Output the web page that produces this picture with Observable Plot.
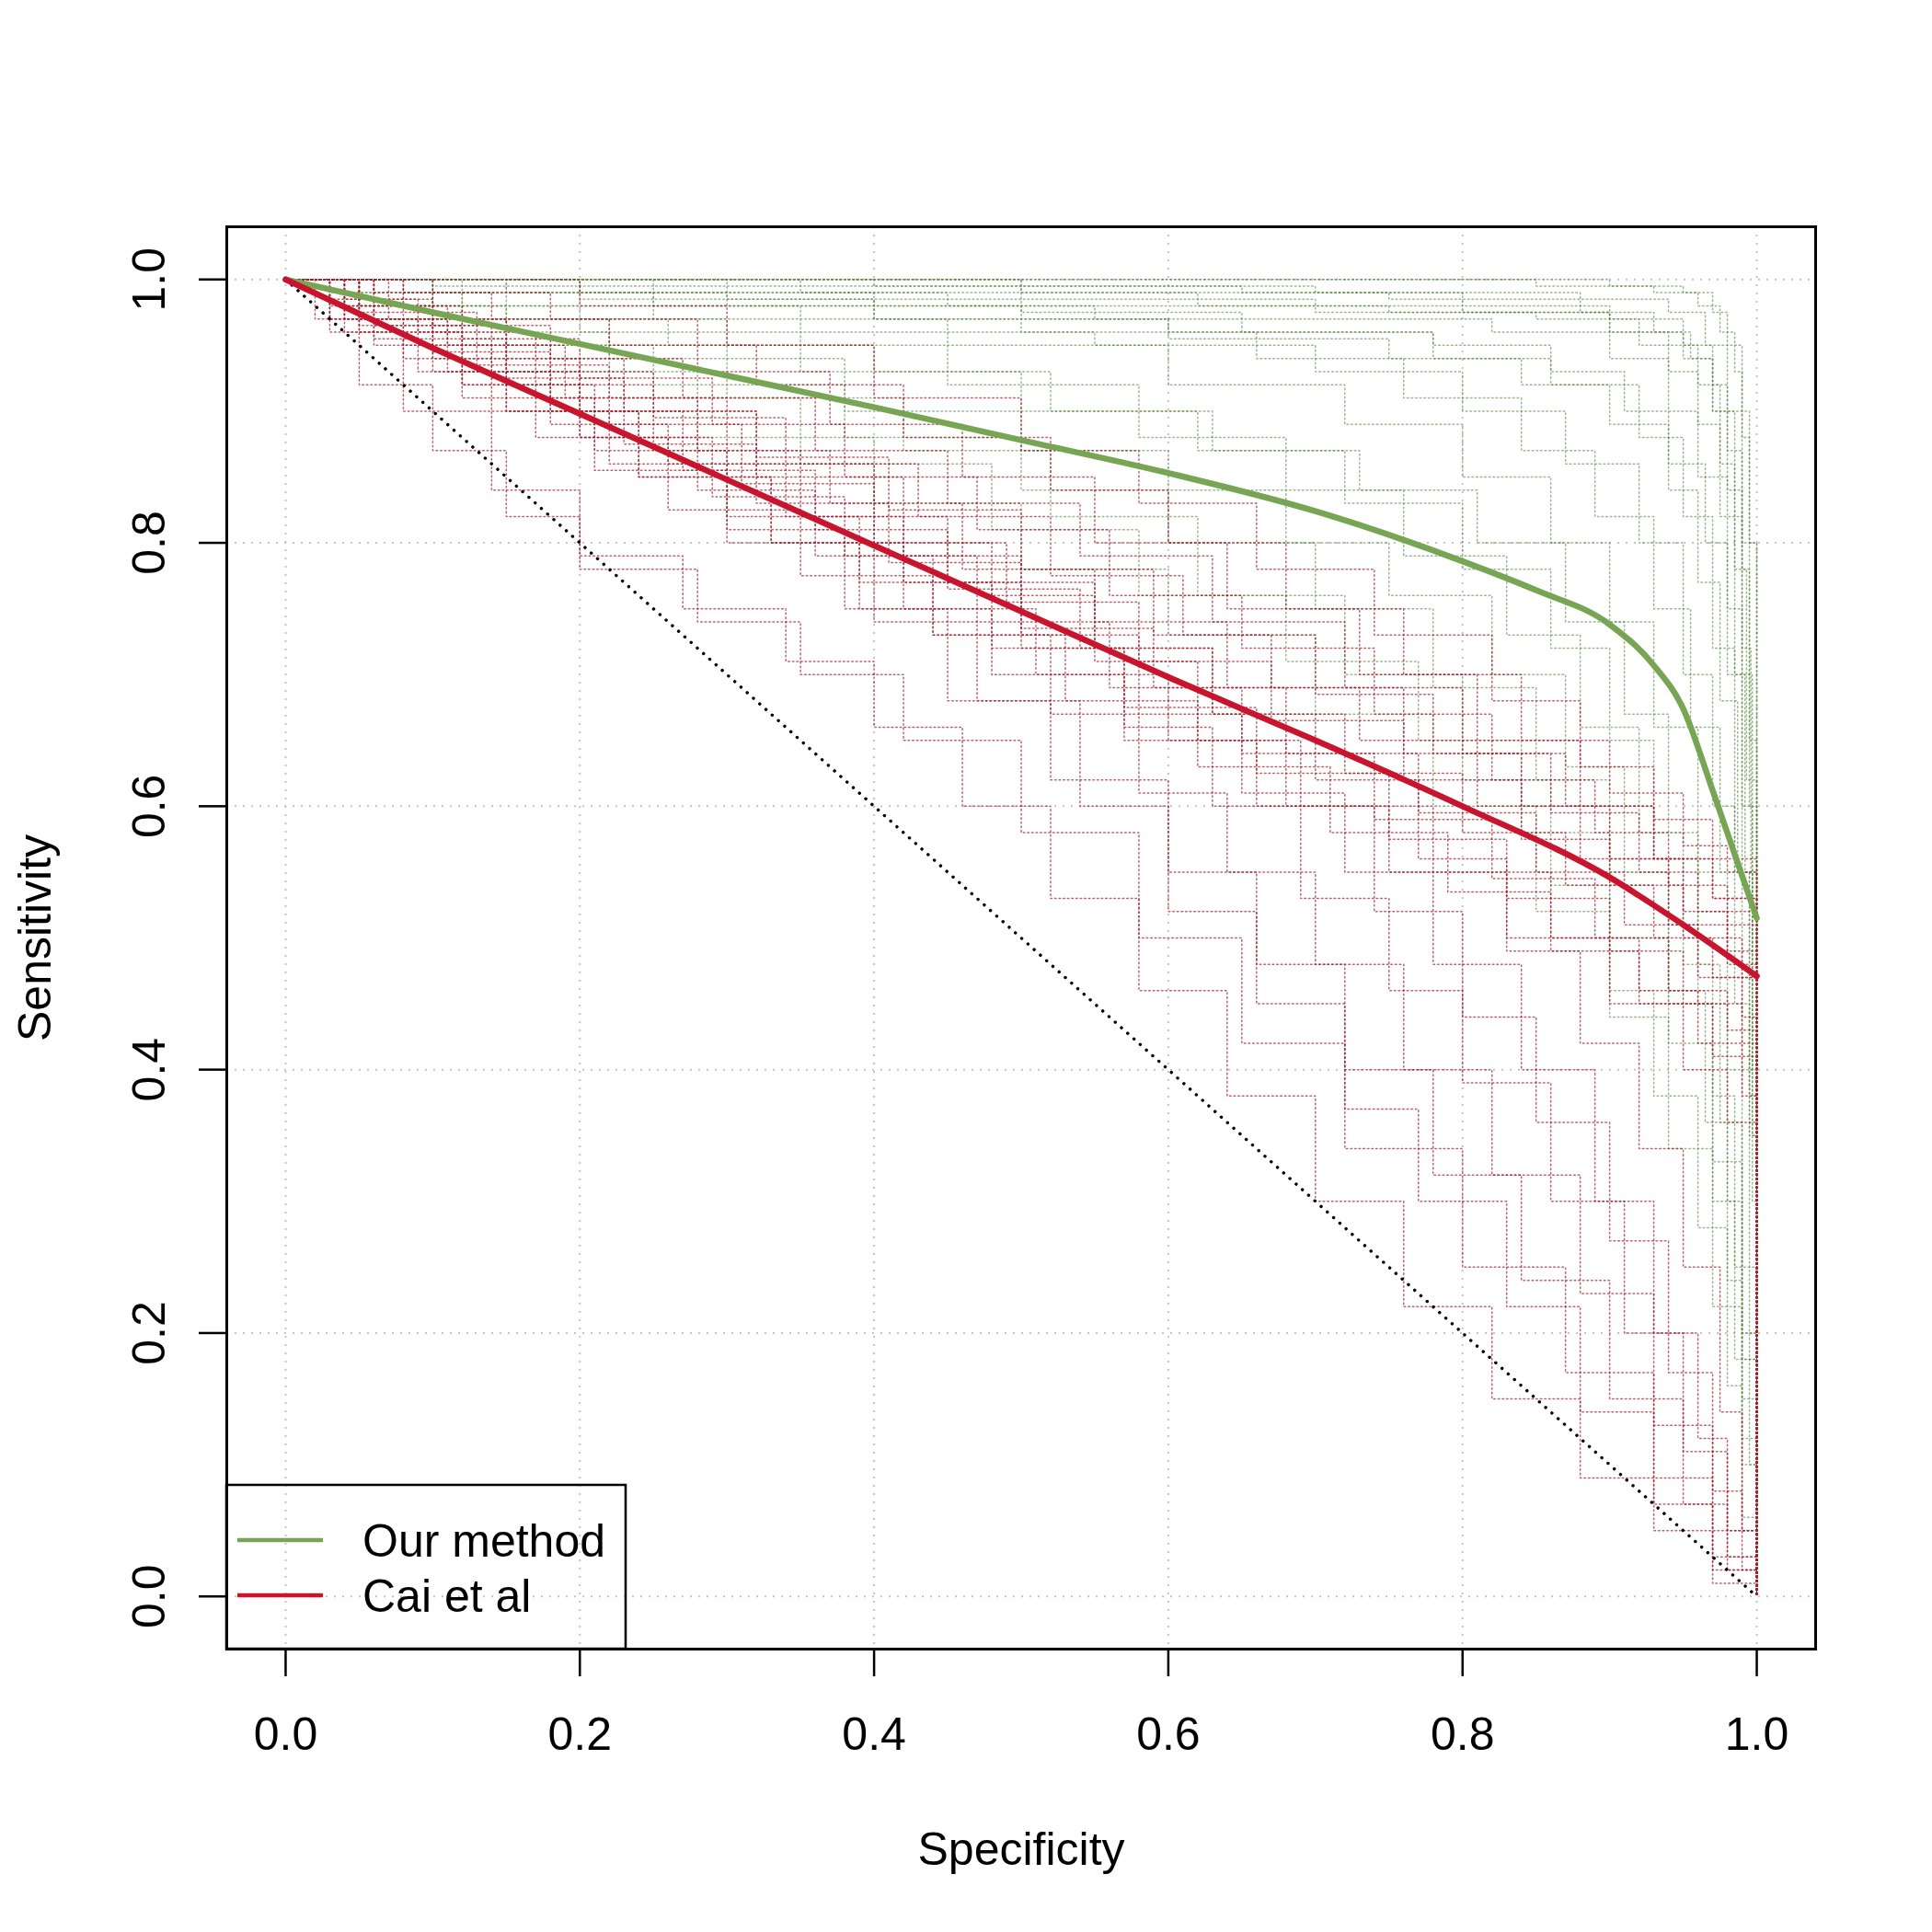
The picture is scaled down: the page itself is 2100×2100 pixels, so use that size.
<!DOCTYPE html>
<html><head><meta charset="utf-8">
<script src="https://cdn.jsdelivr.net/npm/d3@7"></script>
<script src="https://cdn.jsdelivr.net/npm/@observablehq/plot@0.6"></script>
<style>body{margin:0;background:#fff} #chart{width:2100px;height:2100px}</style>
</head><body><div id="chart"></div>
<script>
// ---- data ----
const xTicks = [0, 0.2, 0.4, 0.6, 0.8, 1.0];
const yTicks = [0, 0.2, 0.4, 0.6, 0.8, 1.0];
const seriesNames = ["Our method", "Cai et al"];
const seriesColors = ["#77a553", "#c8142c"];
const xLabel = "Specificity";
const yLabel = "Sensitivity";

// mean curves (specificity, sensitivity)
const ourMethodMean = [[0,1],[0.1,0.975],[0.2,0.951],[0.3,0.927],[0.4,0.903],[0.5,0.878],[0.6,0.853],[0.7,0.824],[0.8,0.786],[0.85,0.764],[0.9,0.738],[0.93,0.707],[0.95,0.674],[0.97,0.612],[0.987,0.557],[1,0.515]];
const caiMean = [[0,1],[0.1,0.948],[0.2,0.898],[0.3,0.848],[0.4,0.798],[0.5,0.748],[0.6,0.698],[0.7,0.65],[0.8,0.6],[0.9,0.546],[0.95,0.51],[1,0.471]];
const chanceLine = [[0,1],[1,0]];

// individual simulated ROC curves (step curves)
const ourMethodRuns = [
 [[0,1],[0.6,1],[0.85,0.995],[0.93,0.99],[0.96,0.98],[0.975,0.96],[0.985,0.93],[0.99,0.88],[0.995,0.8],[1,0.7],[1,0]],
 [[0,1],[0.3,0.995],[0.7,0.99],[0.88,0.985],[0.94,0.975],[0.965,0.95],[0.98,0.9],[0.99,0.8],[0.995,0.65],[1,0.55],[1,0]],
 [[0,1],[0.15,0.99],[0.45,0.98],[0.75,0.975],[0.9,0.96],[0.95,0.94],[0.97,0.9],[0.985,0.82],[0.99,0.7],[0.997,0.5],[1,0]],
 [[0,1],[0.1,0.99],[0.3,0.98],[0.55,0.97],[0.82,0.96],[0.9,0.94],[0.94,0.9],[0.96,0.85],[0.98,0.75],[0.99,0.6],[0.997,0.4],[1,0]],
 [[0,1],[0.2,0.99],[0.4,0.97],[0.6,0.96],[0.78,0.94],[0.86,0.92],[0.92,0.88],[0.95,0.82],[0.97,0.72],[0.985,0.55],[0.995,0.35],[1,0]],
 [[0,1],[0.12,0.98],[0.35,0.96],[0.55,0.95],[0.7,0.93],[0.8,0.9],[0.87,0.86],[0.92,0.8],[0.95,0.7],[0.97,0.6],[0.985,0.45],[0.995,0.25],[1,0]],
 [[0,1],[0.05,0.99],[0.25,0.97],[0.45,0.95],[0.6,0.92],[0.72,0.89],[0.8,0.85],[0.86,0.8],[0.9,0.74],[0.93,0.66],[0.96,0.55],[0.98,0.4],[0.99,0.2],[1,0]],
 [[0,1],[0.08,0.98],[0.2,0.96],[0.35,0.93],[0.5,0.9],[0.62,0.87],[0.72,0.83],[0.8,0.78],[0.86,0.72],[0.9,0.65],[0.93,0.56],[0.96,0.45],[0.98,0.3],[0.99,0.15],[1,0]],
 [[0,1],[0.15,0.97],[0.3,0.95],[0.45,0.92],[0.58,0.88],[0.68,0.84],[0.76,0.79],[0.83,0.73],[0.88,0.66],[0.92,0.58],[0.95,0.48],[0.97,0.38],[0.985,0.25],[0.995,0.1],[1,0]],
 [[0,1],[0.05,0.98],[0.15,0.95],[0.3,0.91],[0.42,0.87],[0.52,0.82],[0.62,0.76],[0.72,0.7],[0.8,0.62],[0.86,0.54],[0.9,0.46],[0.93,0.38],[0.96,0.28],[0.98,0.16],[0.99,0.06],[1,0]],
 [[0,1],[0.4,0.995],[0.65,0.99],[0.8,0.98],[0.9,0.97],[0.95,0.95],[0.97,0.92],[0.98,0.87],[0.99,0.78],[0.995,0.6],[1,0.45],[1,0]],
 [[0,1],[0.2,1],[0.5,0.985],[0.7,0.975],[0.85,0.97],[0.92,0.95],[0.96,0.92],[0.975,0.86],[0.985,0.78],[0.993,0.62],[1,0.5],[1,0]],
 [[0,1],[0.1,0.995],[0.3,0.985],[0.5,0.975],[0.65,0.96],[0.78,0.95],[0.86,0.93],[0.91,0.9],[0.94,0.86],[0.965,0.8],[0.98,0.7],[0.99,0.55],[0.997,0.3],[1,0]],
 [[0,1],[0.25,0.98],[0.5,0.96],[0.66,0.94],[0.76,0.91],[0.84,0.87],[0.89,0.82],[0.93,0.75],[0.955,0.66],[0.975,0.55],[0.99,0.4],[1,0.2],[1,0]],
 [[0,1],[0.1,0.97],[0.22,0.94],[0.38,0.9],[0.5,0.87],[0.6,0.84],[0.68,0.8],[0.75,0.76],[0.82,0.7],[0.87,0.63],[0.91,0.55],[0.94,0.46],[0.965,0.36],[0.98,0.24],[0.99,0.12],[1,0]],
 [[0,1],[0.35,0.99],[0.62,0.98],[0.8,0.975],[0.9,0.96],[0.94,0.93],[0.96,0.89],[0.975,0.82],[0.985,0.7],[0.992,0.55],[0.997,0.35],[1,0]],
 [[0,1],[0.5,0.99],[0.75,0.985],[0.88,0.975],[0.93,0.96],[0.955,0.94],[0.97,0.9],[0.98,0.84],[0.99,0.72],[0.996,0.55],[1,0.4],[1,0]],
 [[0,1],[0.03,0.99],[0.12,0.97],[0.26,0.95],[0.4,0.93],[0.52,0.9],[0.63,0.87],[0.73,0.84],[0.81,0.8],[0.87,0.74],[0.91,0.67],[0.94,0.58],[0.96,0.48],[0.975,0.36],[0.99,0.2],[1,0.05],[1,0]],
 [[0,1],[0.7,1],[0.9,0.995],[0.95,0.99],[0.97,0.975],[0.98,0.95],[0.99,0.9],[0.995,0.8],[1,0.7],[1,0]],
 [[0,1],[0.2,0.985],[0.4,0.97],[0.6,0.955],[0.75,0.94],[0.84,0.92],[0.9,0.89],[0.94,0.84],[0.96,0.77],[0.975,0.68],[0.987,0.55],[0.995,0.38],[1,0.15],[1,0]],
 [[0,1],[0.05,0.97],[0.15,0.93],[0.28,0.88],[0.4,0.83],[0.5,0.78],[0.6,0.73],[0.7,0.67],[0.78,0.6],[0.85,0.52],[0.9,0.44],[0.94,0.34],[0.97,0.22],[0.99,0.1],[1,0]],
 [[0,1],[0.1,0.96],[0.22,0.91],[0.35,0.86],[0.48,0.81],[0.58,0.76],[0.68,0.71],[0.77,0.65],[0.84,0.58],[0.9,0.5],[0.94,0.42],[0.97,0.3],[0.985,0.18],[1,0.05],[1,0]],
 [[0,1],[0.04,0.98],[0.12,0.95],[0.25,0.92],[0.38,0.88],[0.5,0.84],[0.6,0.8],[0.7,0.75],[0.78,0.69],[0.85,0.62],[0.9,0.55],[0.94,0.45],[0.97,0.33],[0.99,0.18],[1,0]]
];

const caiRuns = [
 [[0,1],[0.06,0.99],[0.14,0.97],[0.22,0.95],[0.32,0.92],[0.42,0.88],[0.52,0.84],[0.6,0.8],[0.68,0.75],[0.76,0.7],[0.84,0.65],[0.9,0.61],[0.95,0.57],[0.98,0.55],[1,0.54],[1,0]],
 [[0,1],[0.04,0.985],[0.1,0.965],[0.18,0.94],[0.27,0.91],[0.36,0.87],[0.45,0.83],[0.54,0.79],[0.63,0.74],[0.72,0.69],[0.8,0.64],[0.87,0.6],[0.93,0.56],[0.97,0.53],[1,0.5],[1,0]],
 [[0,1],[0.05,0.98],[0.12,0.955],[0.2,0.925],[0.29,0.89],[0.38,0.85],[0.47,0.81],[0.56,0.76],[0.65,0.72],[0.74,0.67],[0.82,0.62],[0.89,0.58],[0.94,0.54],[0.98,0.51],[1,0.49],[1,0]],
 [[0,1],[0.03,0.985],[0.09,0.96],[0.17,0.93],[0.25,0.895],[0.34,0.86],[0.43,0.82],[0.52,0.775],[0.61,0.73],[0.7,0.685],[0.78,0.64],[0.86,0.595],[0.92,0.55],[0.96,0.52],[1,0.5],[1,0]],
 [[0,1],[0.07,0.97],[0.15,0.94],[0.23,0.9],[0.32,0.865],[0.41,0.825],[0.5,0.78],[0.59,0.73],[0.67,0.69],[0.76,0.64],[0.84,0.6],[0.9,0.56],[0.95,0.52],[0.98,0.49],[1,0.47],[1,0]],
 [[0,1],[0.04,0.98],[0.11,0.95],[0.19,0.91],[0.28,0.87],[0.37,0.83],[0.46,0.78],[0.55,0.74],[0.64,0.69],[0.73,0.65],[0.81,0.6],[0.88,0.56],[0.94,0.51],[0.98,0.48],[1,0.46],[1,0]],
 [[0,1],[0.05,0.975],[0.13,0.935],[0.22,0.89],[0.31,0.845],[0.4,0.8],[0.49,0.755],[0.58,0.71],[0.67,0.665],[0.76,0.62],[0.84,0.575],[0.9,0.54],[0.95,0.5],[0.99,0.47],[1,0.45],[1,0]],
 [[0,1],[0.03,0.98],[0.1,0.945],[0.18,0.9],[0.27,0.855],[0.36,0.81],[0.45,0.765],[0.54,0.72],[0.63,0.67],[0.72,0.625],[0.8,0.58],[0.87,0.54],[0.93,0.5],[0.97,0.47],[1,0.44],[1,0]],
 [[0,1],[0.06,0.965],[0.14,0.925],[0.23,0.875],[0.32,0.83],[0.41,0.785],[0.5,0.735],[0.59,0.69],[0.68,0.64],[0.77,0.595],[0.85,0.55],[0.91,0.51],[0.96,0.47],[0.99,0.44],[1,0.43],[1,0]],
 [[0,1],[0.04,0.97],[0.11,0.93],[0.2,0.88],[0.29,0.835],[0.38,0.79],[0.47,0.74],[0.56,0.69],[0.65,0.64],[0.74,0.59],[0.82,0.545],[0.89,0.5],[0.94,0.46],[0.98,0.43],[1,0.41],[1,0]],
 [[0,1],[0.05,0.965],[0.12,0.92],[0.21,0.87],[0.3,0.82],[0.39,0.77],[0.48,0.72],[0.57,0.675],[0.66,0.625],[0.75,0.575],[0.83,0.53],[0.9,0.49],[0.95,0.45],[0.99,0.42],[1,0.4],[1,0]],
 [[0,1],[0.03,0.97],[0.09,0.93],[0.17,0.88],[0.26,0.825],[0.35,0.775],[0.44,0.73],[0.53,0.68],[0.62,0.63],[0.71,0.58],[0.79,0.535],[0.86,0.49],[0.92,0.45],[0.97,0.41],[1,0.38],[1,0]],
 [[0,1],[0.06,0.955],[0.15,0.9],[0.24,0.85],[0.33,0.8],[0.42,0.75],[0.51,0.7],[0.6,0.65],[0.69,0.6],[0.78,0.55],[0.86,0.5],[0.92,0.46],[0.96,0.42],[0.99,0.38],[1,0.36],[1,0]],
 [[0,1],[0.04,0.96],[0.12,0.91],[0.21,0.855],[0.3,0.8],[0.39,0.75],[0.48,0.7],[0.57,0.65],[0.66,0.6],[0.75,0.55],[0.83,0.5],[0.9,0.45],[0.95,0.4],[0.98,0.36],[1,0.33],[1,0]],
 [[0,1],[0.08,0.99],[0.18,0.97],[0.28,0.93],[0.37,0.89],[0.46,0.85],[0.55,0.8],[0.64,0.75],[0.73,0.7],[0.81,0.65],[0.88,0.6],[0.93,0.56],[0.97,0.53],[1,0.52],[1,0]],
 [[0,1],[0.1,1],[0.2,0.98],[0.3,0.95],[0.4,0.91],[0.5,0.87],[0.58,0.83],[0.66,0.78],[0.74,0.73],[0.82,0.68],[0.88,0.63],[0.93,0.59],[0.97,0.56],[1,0.55],[1,0]],
 [[0,1],[0.02,0.97],[0.05,0.92],[0.1,0.87],[0.15,0.82],[0.2,0.78],[0.28,0.74],[0.35,0.7],[0.42,0.65],[0.5,0.58],[0.58,0.5],[0.65,0.42],[0.72,0.34],[0.8,0.25],[0.87,0.17],[0.93,0.09],[0.97,0.03],[1,0]],
 [[0,1],[0.03,0.97],[0.08,0.94],[0.15,0.9],[0.22,0.86],[0.3,0.81],[0.38,0.75],[0.45,0.68],[0.52,0.62],[0.6,0.55],[0.66,0.48],[0.72,0.4],[0.78,0.32],[0.84,0.24],[0.9,0.15],[0.95,0.07],[0.98,0.02],[1,0]],
 [[0,1],[0.05,0.96],[0.12,0.92],[0.2,0.88],[0.28,0.84],[0.36,0.79],[0.44,0.73],[0.52,0.67],[0.58,0.61],[0.64,0.55],[0.7,0.48],[0.76,0.4],[0.82,0.32],[0.88,0.23],[0.93,0.13],[0.97,0.05],[1,0]],
 [[0,1],[0.04,0.97],[0.1,0.93],[0.18,0.89],[0.26,0.86],[0.34,0.82],[0.42,0.77],[0.5,0.72],[0.57,0.66],[0.63,0.6],[0.69,0.53],[0.75,0.46],[0.8,0.39],[0.86,0.3],[0.91,0.2],[0.95,0.11],[0.98,0.03],[1,0]],
 [[0,1],[0.06,0.95],[0.14,0.9],[0.24,0.85],[0.33,0.8],[0.4,0.74],[0.47,0.68],[0.54,0.6],[0.6,0.52],[0.66,0.45],[0.72,0.37],[0.77,0.3],[0.83,0.22],[0.88,0.14],[0.93,0.07],[0.97,0.02],[1,0]],
 [[0,1],[0.08,0.95],[0.18,0.91],[0.3,0.86],[0.4,0.8],[0.48,0.76],[0.55,0.71],[0.62,0.65],[0.68,0.6],[0.74,0.52],[0.8,0.44],[0.85,0.36],[0.9,0.27],[0.94,0.17],[0.97,0.08],[0.99,0.02],[1,0]],
 [[0,1],[0.05,0.97],[0.15,0.92],[0.25,0.87],[0.35,0.82],[0.45,0.77],[0.55,0.72],[0.63,0.67],[0.7,0.62],[0.77,0.56],[0.83,0.49],[0.88,0.42],[0.92,0.34],[0.95,0.25],[0.975,0.14],[0.99,0.05],[1,0]],
 [[0,1],[0.1,0.94],[0.2,0.9],[0.32,0.85],[0.42,0.79],[0.5,0.73],[0.58,0.67],[0.65,0.61],[0.72,0.55],[0.78,0.48],[0.84,0.4],[0.89,0.3],[0.93,0.2],[0.96,0.12],[0.98,0.05],[1,0]],
 [[0,1],[0.03,0.96],[0.08,0.9],[0.14,0.84],[0.2,0.79],[0.27,0.75],[0.34,0.71],[0.4,0.66],[0.46,0.6],[0.52,0.53],[0.58,0.46],[0.64,0.38],[0.7,0.3],[0.76,0.22],[0.82,0.15],[0.88,0.09],[0.93,0.05],[0.97,0.01],[1,0]]
];

// ---- build tables ----
const toRows = (runs, tag) => runs.flatMap((run, i) => run.map(([x, y]) => ({x, y, id: tag + i})));
const ourRows = toRows(ourMethodRuns, "g");
const caiRows = toRows(caiRuns, "r");
const px = d => d[0], py = d => d[1];

const W = 2100, H = 2100, mL = 246, mR = 127, mT = 246, mB = 308;
const font = "'Liberation Sans', Arial, Helvetica, sans-serif";

const plot = Plot.plot({
  width: W, height: H,
  marginLeft: mL, marginRight: mR, marginTop: mT, marginBottom: mB,
  style: {fontFamily: font, fontSize: "50px", background: "#fff", color: "#000", overflow: "visible"},
  x: {domain: [-0.04, 1.04]},
  y: {domain: [-0.04, 1.04]},
  marks: [
    Plot.gridX(xTicks, {stroke: "#c4c4c4", strokeOpacity: 1, strokeWidth: 2, strokeDasharray: "2,7"}),
    Plot.gridY(yTicks, {stroke: "#c4c4c4", strokeOpacity: 1, strokeWidth: 2, strokeDasharray: "2,7"}),
    Plot.line(ourRows, {x: "x", y: "y", z: "id", curve: "step-after", stroke: "#5e8a46", strokeOpacity: 0.62, strokeWidth: 1.5, strokeDasharray: "1.6,3"}),
    Plot.line(caiRows, {x: "x", y: "y", z: "id", curve: "step-after", stroke: "#a41f2c", strokeOpacity: 0.7, strokeWidth: 1.5, strokeDasharray: "1.6,3"}),
    Plot.line(chanceLine, {x: px, y: py, stroke: "#000", strokeWidth: 3.4, strokeDasharray: "0.1,9", strokeLinecap: "round"}),
    Plot.line(ourMethodMean, {x: px, y: py, curve: "monotone-x", stroke: seriesColors[0], strokeWidth: 6.5}),
    Plot.line(caiMean, {x: px, y: py, curve: "monotone-x", stroke: seriesColors[1], strokeWidth: 6.5}),
    Plot.frame({stroke: "#000", strokeWidth: 3}),
    Plot.axisX(xTicks, {tickSize: 30, tickPadding: 44, strokeWidth: 2.5, tickFormat: d3.format(".1f"), fontSize: 50,
      label: xLabel, labelAnchor: "center", labelArrow: "none", labelOffset: 234}),
    Plot.axisY(yTicks, {tickSize: 30, tickPadding: 38, strokeWidth: 2.5, tickRotate: -90, tickFormat: d3.format(".1f"), fontSize: 50,
      label: yLabel, labelAnchor: "center", labelArrow: "none", labelOffset: 227})
  ]
});

// ---- legend (bottom-left, inside the plotting frame) ----
const svg = d3.select(plot);
const lg = svg.append("g").attr("font-family", font).attr("font-size", 50).attr("text-anchor", "start");
const boxW = 434, boxH = 178, boxX = mL, boxY = H - mB - boxH;
lg.append("rect").attr("x", boxX).attr("y", boxY).attr("width", boxW).attr("height", boxH)
  .attr("fill", "none").attr("stroke", "#000").attr("stroke-width", 2.5);
seriesNames.forEach((name, i) => {
  const yy = boxY + 60 + i * 60;
  lg.append("line").attr("x1", boxX + 12).attr("x2", boxX + 105).attr("y1", yy).attr("y2", yy)
    .attr("stroke", seriesColors[i]).attr("stroke-width", 4.5);
  lg.append("text").attr("x", boxX + 148).attr("y", yy).attr("dy", "0.36em")
    .attr("text-anchor", "start").attr("fill", "#000").text(name);
});

document.getElementById("chart").appendChild(plot);
</script>
</body></html>
